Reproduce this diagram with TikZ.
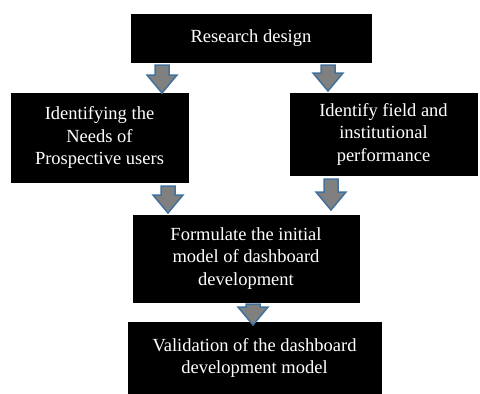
\documentclass[tikz,border=0pt]{standalone}
\usepackage{fontspec}
\newfontfamily\boxfont{LiberationSerif-Regular.ttf}
\usetikzlibrary{positioning}

\tikzset{
  box/.style={draw=black, fill=black, text=white, align=center, inner sep=0pt,
              font=\boxfont\fontsize{18.5}{22.5}\selectfont},
  arrowline/.style={draw={rgb,255:red,65;green,113;blue,156}, line width=1.5pt,
                    fill={rgb,255:red,128;green,128;blue,128}, line join=miter},
  pics/downarrow/.style={code={
    \draw[arrowline] (-7,0) -- (7,0) -- (7,#1-18) -- (15,#1-18) -- (0,#1)
      -- (-15,#1-18) -- (-7,#1-18) -- cycle;
  }}
}

\begin{document}
\begin{tikzpicture}[x=1pt, y=-1pt]
  \useasboundingbox (0,0) rectangle (480,394);

  % Research design
  \node[box, minimum width=240pt, minimum height=48pt] (design) at (251,38) {Research design};

  % Two parallel steps
  \node[box, minimum width=177pt, minimum height=89pt] (needs) at (99.5,137.5)
    {Identifying the\\Needs of\\Prospective users};
  \node[box, minimum width=187pt, minimum height=82pt] (field) at (383.5,134)
    {Identify field and\\institutional\\performance};

  % Initial model
  \node[box, minimum width=226pt, minimum height=87pt] (model) at (246,258.5)
    {Formulate the initial\\model of dashboard\\development};

  % Validation
  \node[box, minimum width=253pt, minimum height=72pt] (valid) at (254.5,358)
    {Validation of the dashboard\\development model};

  % Block arrows
  \pic at (162,65) {downarrow=28};
  \pic at (328,65) {downarrow=26};
  \pic at (168,186) {downarrow=27};
  \pic at (331,179) {downarrow=31};
  \pic at (253,304) {downarrow=21};
\end{tikzpicture}
\end{document}
